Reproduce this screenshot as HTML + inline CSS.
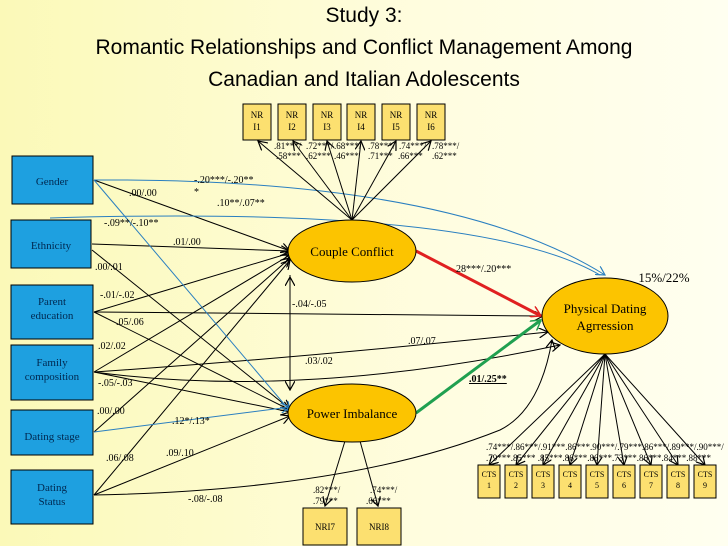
<!DOCTYPE html>
<html><head><meta charset="utf-8"><style>
html,body{margin:0;padding:0}
body{width:728px;height:546px;overflow:hidden;background:linear-gradient(90deg,#fbf9b8,#fffde0 60%,#fffff0);font-family:"Liberation Serif",serif}
svg{position:absolute;left:0;top:0}
</style></head><body>
<svg width="728" height="546" viewBox="0 0 728 546" font-family="Liberation Serif, serif">
<defs>
<marker id="a" markerWidth="10" markerHeight="10" refX="9" refY="5" orient="auto" markerUnits="userSpaceOnUse"><path d="M0,0 L9,5 L0,10" fill="none" stroke="#000" stroke-width="1.2"/></marker>
<marker id="ab" markerWidth="10" markerHeight="10" refX="9" refY="5" orient="auto" markerUnits="userSpaceOnUse"><path d="M0,0 L9,5 L0,10" fill="none" stroke="#2a7fc0" stroke-width="1.2"/></marker>
<marker id="ar" markerWidth="12" markerHeight="12" refX="10" refY="6" orient="auto" markerUnits="userSpaceOnUse"><path d="M0,0 L10,6 L0,12" fill="none" stroke="#e02020" stroke-width="1.5"/></marker>
<marker id="ag" markerWidth="12" markerHeight="12" refX="10" refY="6" orient="auto" markerUnits="userSpaceOnUse"><path d="M0,0 L10,6 L0,12" fill="none" stroke="#20a050" stroke-width="1.5"/></marker>
</defs>
<g font-family="Liberation Sans, sans-serif" font-size="21" fill="#000" text-anchor="middle">
<text x="364" y="22">Study 3:</text>
<text x="364" y="54">Romantic Relationships and Conflict Management Among</text>
<text x="364" y="86">Canadian and Italian Adolescents</text>
</g>
<!-- lines -->
<g stroke="#000" stroke-width="1" fill="none" marker-end="url(#a)">
<line x1="94" y1="180" x2="290" y2="251"/>
<line x1="92" y1="244" x2="290" y2="251"/>
<line x1="92" y1="250" x2="290" y2="409"/>
<line x1="94" y1="312" x2="290" y2="253"/>
<line x1="94" y1="312" x2="290" y2="410"/>
<line x1="94" y1="312" x2="543" y2="316"/>
<line x1="94" y1="372" x2="290" y2="255"/>
<line x1="94" y1="372" x2="290" y2="412"/>
<path d="M94,372 Q300,358 548,332"/>
<line x1="94" y1="432" x2="290" y2="258"/>
<line x1="94" y1="495" x2="290" y2="260"/>
<line x1="94" y1="495" x2="290" y2="416"/>
<path d="M94,495 Q350,490 500,430 Q540,410 552,340" />
<path d="M94,372 Q300,400 560,345" />
<line x1="290" y1="275" x2="290" y2="390"/>
<line x1="290" y1="390" x2="290" y2="277"/>
</g>
<g stroke="#2a7fc0" stroke-width="1" fill="none">
<path d="M94,180 Q450,178 605,275" marker-end="url(#ab)"/>
<path d="M50,218 Q480,205 600,275"/>
<line x1="94" y1="180" x2="290" y2="411" marker-end="url(#ab)"/>
<line x1="94" y1="432" x2="290" y2="407" marker-end="url(#ab)"/>
</g>
<line x1="416" y1="251" x2="541" y2="316" stroke="#e02020" stroke-width="3" marker-end="url(#ar)"/>
<line x1="416" y1="413" x2="541" y2="320" stroke="#20a050" stroke-width="3" marker-end="url(#ag)"/>
<!-- NR fan -->
<g stroke="#000" stroke-width="1" marker-end="url(#a)">
<line x1="352" y1="220" x2="258" y2="141"/>
<line x1="352" y1="220" x2="293" y2="141"/>
<line x1="352" y1="220" x2="327" y2="141"/>
<line x1="352" y1="220" x2="361" y2="141"/>
<line x1="352" y1="220" x2="396" y2="141"/>
<line x1="352" y1="220" x2="431" y2="141"/>
<line x1="345" y1="441" x2="325" y2="506"/>
<line x1="360" y1="441" x2="378" y2="506"/>
</g>
<g stroke="#000" stroke-width="1" marker-end="url(#a)">
<line x1="605" y1="354" x2="489" y2="465"/>
<line x1="605" y1="354" x2="516" y2="465"/>
<line x1="605" y1="354" x2="543" y2="465"/>
<line x1="605" y1="354" x2="570" y2="465"/>
<line x1="605" y1="354" x2="597" y2="465"/>
<line x1="605" y1="354" x2="624" y2="465"/>
<line x1="605" y1="354" x2="651" y2="465"/>
<line x1="605" y1="354" x2="678" y2="465"/>
<line x1="605" y1="354" x2="705" y2="465"/>
</g>
<!-- left boxes -->
<g fill="#1ea0e0" stroke="#000" stroke-width="1">
<rect x="12" y="156" width="81" height="48"/>
<rect x="11" y="220" width="80" height="48"/>
<rect x="11" y="285" width="82" height="54"/>
<rect x="11" y="345" width="82" height="55"/>
<rect x="11" y="410" width="82" height="45"/>
<rect x="11" y="470" width="82" height="54"/>
</g>
<g font-size="11" fill="#002850" text-anchor="middle">
<text x="52" y="185">Gender</text>
<text x="51" y="249">Ethnicity</text>
<text x="52" y="305">Parent</text><text x="52" y="319">education</text>
<text x="52" y="366">Family</text><text x="52" y="380">composition</text>
<text x="52" y="440">Dating stage</text>
<text x="52" y="491">Dating</text><text x="52" y="505">Status</text>
</g>
<!-- ellipses -->
<g fill="#fcc400" stroke="#000" stroke-width="1">
<ellipse cx="352" cy="251" rx="64" ry="31"/>
<ellipse cx="352" cy="413" rx="64" ry="29"/>
<ellipse cx="605" cy="316" rx="63" ry="38"/>
</g>
<g font-size="13" text-anchor="middle" fill="#000">
<text x="352" y="256">Couple Conflict</text>
<text x="352" y="418">Power Imbalance</text>
<text x="605" y="313">Physical Dating</text>
<text x="605" y="330">Agrression</text>
<text x="664" y="282">15%/22%</text>
</g>
<!-- small boxes -->
<g fill="#fce070" stroke="#000" stroke-width="1">
<rect x="243" y="104" width="28" height="36"/><rect x="278" y="104" width="28" height="36"/><rect x="313" y="104" width="28" height="36"/><rect x="347" y="104" width="28" height="36"/><rect x="382" y="104" width="28" height="36"/><rect x="417" y="104" width="28" height="36"/>
<rect x="303" y="508" width="44" height="37"/><rect x="357" y="508" width="44" height="37"/>
<rect x="478" y="465" width="22" height="33"/><rect x="505" y="465" width="22" height="33"/><rect x="532" y="465" width="22" height="33"/><rect x="559" y="465" width="22" height="33"/><rect x="586" y="465" width="22" height="33"/><rect x="613" y="465" width="22" height="33"/><rect x="640" y="465" width="22" height="33"/><rect x="667" y="465" width="22" height="33"/><rect x="694" y="465" width="22" height="33"/>
</g>
<g font-size="9" text-anchor="middle" fill="#000">
<text x="257" y="118">NR</text><text x="257" y="130">I1</text>
<text x="292" y="118">NR</text><text x="292" y="130">I2</text>
<text x="327" y="118">NR</text><text x="327" y="130">I3</text>
<text x="361" y="118">NR</text><text x="361" y="130">I4</text>
<text x="396" y="118">NR</text><text x="396" y="130">I5</text>
<text x="431" y="118">NR</text><text x="431" y="130">I6</text>
<text x="325" y="530">NRI7</text><text x="379" y="530">NRI8</text>
</g>
<g font-size="8" text-anchor="middle" fill="#000">
<text x="489" y="477">CTS</text><text x="489" y="488">1</text>
<text x="516" y="477">CTS</text><text x="516" y="488">2</text>
<text x="543" y="477">CTS</text><text x="543" y="488">3</text>
<text x="570" y="477">CTS</text><text x="570" y="488">4</text>
<text x="597" y="477">CTS</text><text x="597" y="488">5</text>
<text x="624" y="477">CTS</text><text x="624" y="488">6</text>
<text x="651" y="477">CTS</text><text x="651" y="488">7</text>
<text x="678" y="477">CTS</text><text x="678" y="488">8</text>
<text x="705" y="477">CTS</text><text x="705" y="488">9</text>
</g>
<!-- coefficient labels -->
<g font-size="9" fill="#000">
<text x="274" y="149">.81***/</text><text x="276" y="159">.58***</text>
<text x="306" y="149">.72***/</text><text x="306" y="159">.62***</text>
<text x="334" y="149">.68***/</text><text x="334" y="159">.46***</text>
<text x="368" y="149">.78***/</text><text x="368" y="159">.71***</text>
<text x="399" y="149">.74***/</text><text x="398" y="159">.66***</text>
<text x="432" y="149">.78***/</text><text x="432" y="159">.62***</text>
<text x="486" y="450">.74***/.86***/.91***.86***.90***/.79***.86***/.89***/.90***/</text>
<text x="486" y="461">.79***.85*** .85***.86***.86***.73***.86***.84***.88***</text>
<text x="313" y="493">.82***/</text><text x="313" y="504">.79***</text>
<text x="370" y="493">.74***/</text><text x="366" y="504">.66***</text>
</g>
<g font-size="10" fill="#000">
<text x="194" y="183">-.20***/-.20**</text>
<text x="194" y="195">*</text>
<text x="217" y="206">.10**/.07**</text>
<text x="129" y="196">.00/.00</text>
<text x="104" y="226">-.09**/-.10**</text>
<text x="173" y="245">.01/.00</text>
<text x="95" y="270">.00/.01</text>
<text x="100" y="298">-.01/-.02</text>
<text x="116" y="325">.05/.06</text>
<text x="292" y="307">-.04/-.05</text>
<text x="98" y="349">.02/.02</text>
<text x="408" y="344">.07/.07</text>
<text x="305" y="364">.03/.02</text>
<text x="98" y="386">-.05/-.03</text>
<text x="97" y="414">.00/.00</text>
<text x="172" y="424">.12*/.13*</text>
<text x="166" y="456">.09/.10</text>
<text x="106" y="461">.06/.08</text>
<text x="188" y="502">-.08/-.08</text>
<text x="456" y="272">28***/.20***</text>
<text x="469" y="382" font-weight="bold" text-decoration="underline">.01/.25**</text>
</g>
</svg>
</body></html>
